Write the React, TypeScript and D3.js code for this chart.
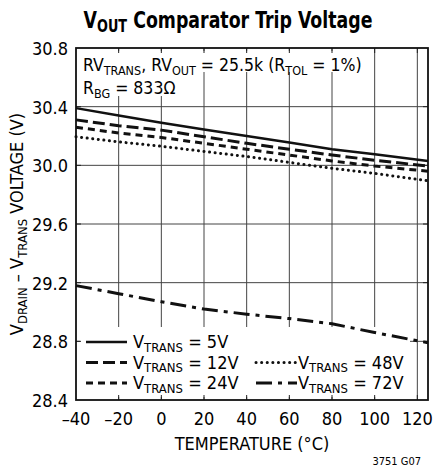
import React from "react";
import * as d3 from "d3";

const temps = [-40, -20, 0, 20, 40, 60, 80, 100, 125];
const v5 = [30.39, 30.34, 30.29, 30.245, 30.2, 30.155, 30.11, 30.075, 30.03];
const v12 = [30.31, 30.27, 30.24, 30.195, 30.15, 30.11, 30.07, 30.035, 29.995];
const v24 = [30.26, 30.22, 30.19, 30.15, 30.11, 30.07, 30.03, 29.995, 29.96];
const v48 = [30.195, 30.16, 30.13, 30.095, 30.06, 30.02, 29.98, 29.945, 29.895];
const v72 = [29.18, 29.125, 29.07, 29.02, 28.985, 28.955, 28.92, 28.86, 28.79];

const xTicks = [-40, -20, 0, 20, 40, 60, 80, 100, 120];
const yTicks = [28.4, 28.8, 29.2, 29.6, 30.0, 30.4, 30.8];

const FONT = "'DejaVu Sans Condensed', 'Liberation Sans', sans-serif";

const series = [
  { label: "5V", values: v5, dash: "none", width: 2.5 },
  { label: "12V", values: v12, dash: "12,5", width: 3 },
  { label: "24V", values: v24, dash: "7,5", width: 3 },
  { label: "48V", values: v48, dash: "0.1,5.5", width: 3, round: true },
  { label: "72V", values: v72, dash: "16,6,4,6", width: 3 },
];

// text with one subscript
const Sub = ({ main, sub, rest, size = 12.5, shift = 3.5 }) => (
  <>
    <tspan>{main}</tspan>
    <tspan fontSize={size} dy={shift}>{sub}</tspan>
    <tspan dy={-shift}>{rest}</tspan>
  </>
);

export default function App() {
  const width = 434;
  const height = 469;
  const margin = { top: 48, right: 6, bottom: 69, left: 76 };

  const x = d3.scaleLinear().domain([-40, 125]).range([margin.left, width - margin.right]);
  const y = d3.scaleLinear().domain([28.4, 30.8]).range([height - margin.bottom, margin.top]);

  const line = (vals) =>
    d3
      .line()
      .x((d, i) => x(temps[i]))
      .y((d) => y(d))(vals);

  const x0 = x(-40);
  const x1 = x(125);
  const y0 = y(28.4);
  const y1 = y(30.8);

  const legendRows = [
    { s: series[0], col: 0, row: 0 },
    { s: series[1], col: 0, row: 1 },
    { s: series[2], col: 0, row: 2 },
    { s: series[3], col: 1, row: 1 },
    { s: series[4], col: 1, row: 2 },
  ];

  return (
    <svg
      width={width}
      height={height}
      style={{ position: "absolute", left: 0, top: 0, background: "#fff" }}
      fontFamily={FONT}
    >
      <text transform="translate(228,28) scale(0.84,1)" textAnchor="middle" fontSize={23} fontWeight="bold">
        <Sub main="V" sub="OUT" rest=" Comparator Trip Voltage" size={17} shift={4} />
      </text>

      {/* grid */}
      {xTicks.slice(1).map((t) => (
        <line key={"gx" + t} x1={x(t)} x2={x(t)} y1={y0} y2={y1} stroke="#444" strokeWidth={1} />
      ))}
      {yTicks.slice(1, -1).map((t) => (
        <line key={"gy" + t} x1={x0} x2={x1} y1={y(t)} y2={y(t)} stroke="#444" strokeWidth={1} />
      ))}

      {/* white boxes under annotation and legend */}
      <rect x={x0 + 1} y={51} width={289} height={21} fill="#fff" />
      <rect x={x0 + 1} y={72} width={96} height={24} fill="#fff" />
      <rect x={80} y={327} width={330} height={70} fill="#fff" />

      {/* ticks */}
      {xTicks.slice(1).map((t) => (
        <g key={"tx" + t} stroke="#222" strokeWidth={1}>
          <line x1={x(t)} x2={x(t)} y1={y0} y2={y0 - 5} />
          <line x1={x(t)} x2={x(t)} y1={y1} y2={y1 + 5} />
        </g>
      ))}
      {yTicks.slice(1, -1).map((t) => (
        <g key={"ty" + t} stroke="#222" strokeWidth={1}>
          <line x1={x0} x2={x0 + 5} y1={y(t)} y2={y(t)} />
          <line x1={x1} x2={x1 - 5} y1={y(t)} y2={y(t)} />
        </g>
      ))}

      {/* annotation */}
      <text x={83} y={71} fontSize={17.5}>
        <tspan>RV</tspan>
        <tspan fontSize={12.5} dy={3.5}>TRANS</tspan>
        <tspan dy={-3.5}>, RV</tspan>
        <tspan fontSize={12.5} dy={3.5}>OUT</tspan>
        <tspan dy={-3.5}> = 25.5k (R</tspan>
        <tspan fontSize={12.5} dy={3.5}>TOL</tspan>
        <tspan dy={-3.5}> = 1%)</tspan>
      </text>
      <text x={83} y={94} fontSize={17.5}>
        <Sub main="R" sub="BG" rest=" = 833Ω" />
      </text>

      {/* data */}
      {series.map((s) => (
        <path
          key={s.label}
          d={line(s.values)}
          fill="none"
          stroke="#111"
          strokeWidth={s.width}
          strokeDasharray={s.dash}
          strokeLinecap={s.round ? "round" : "butt"}
        />
      ))}

      {/* legend */}
      {legendRows.map(({ s, col, row }) => {
        const lx = col === 0 ? 86 : 256;
        const ly = 342 + row * 20.5;
        return (
          <g key={"lg" + s.label}>
            <line
              x1={lx}
              x2={lx + 41}
              y1={ly}
              y2={ly}
              stroke="#111"
              strokeWidth={s.width}
              strokeDasharray={s.dash}
              strokeLinecap={s.round ? "round" : "butt"}
            />
            <text x={col === 0 ? 133 : 298} y={ly + 6} fontSize={18}>
              <Sub main="V" sub="TRANS" rest={" = " + s.label} size={13} />
            </text>
          </g>
        );
      })}

      {/* frame */}
      <rect x={x0} y={y1} width={x1 - x0} height={y0 - y1} fill="none" stroke="#111" strokeWidth={1.8} />

      {/* axis labels */}
      {yTicks.map((t) => (
        <text key={"yl" + t} x={68} y={y(t) + 7} textAnchor="end" fontSize={18}>
          {t.toFixed(1)}
        </text>
      ))}
      {xTicks.map((t) => (
        <text key={"xl" + t} x={x(t)} y={425} textAnchor="middle" fontSize={18}>
          {t < 0 ? "–" + Math.abs(t) : t}
        </text>
      ))}
      <text x={(x0 + x1) / 2} y={450} textAnchor="middle" fontSize={18}>
        TEMPERATURE (°C)
      </text>
      <text transform={`translate(23,${(y0 + y1) / 2}) rotate(-90)`} textAnchor="middle" fontSize={18}>
        <tspan>V</tspan>
        <tspan fontSize={13} dy={4}>DRAIN</tspan>
        <tspan dy={-4}> – V</tspan>
        <tspan fontSize={13} dy={4}>TRANS</tspan>
        <tspan dy={-4}> VOLTAGE (V)</tspan>
      </text>
      <text x={421} y={465} textAnchor="end" fontSize={11}>
        3751 G07
      </text>
    </svg>
  );
}
